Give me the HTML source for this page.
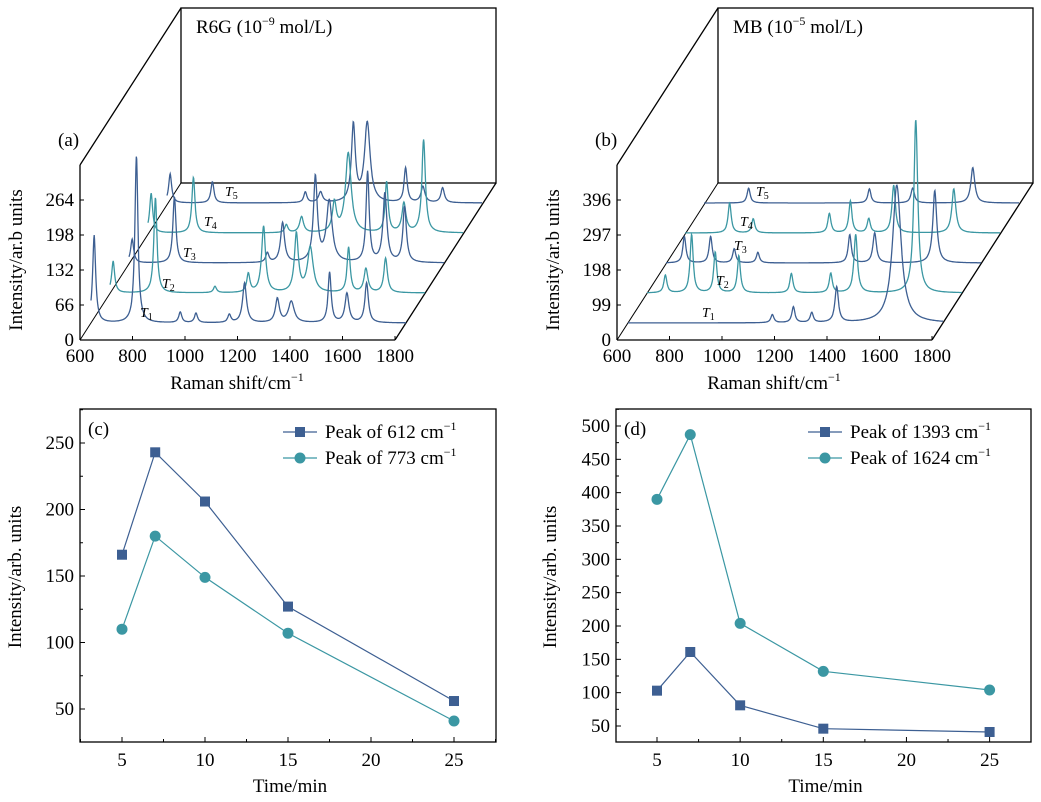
<!DOCTYPE html>
<html><head><meta charset="utf-8"><style>
html,body{margin:0;padding:0;background:#fff;}
svg{display:block;font-family:"Liberation Serif",serif;}
</style></head><body>
<svg id="fig" width="1041" height="802" viewBox="0 0 1041 802"></svg>
<script>
// ---------- data ----------
const r6gPeaks = [612, 773, 940, 1000, 1127, 1185, 1310, 1363, 1509, 1575, 1650];
const r6gWidths = [7, 7, 7, 7, 7, 9, 9, 13, 7, 9, 8];
const r6gT1 = [165, 315, 20, 18, 15, 75, 45, 40, 95, 55, 75];
const r6gT2 = [60, 180, 0, 12, 35, 125, 110, 85, 85, 45, 65];
const r6gT3 = [45, 125, 0, 0, 18, 75, 160, 115, 170, 130, 105];
const r6gT4 = [75, 105, 0, 0, 15, 30, 55, 150, 95, 55, 175];
const r6gT5 = [55, 40, 0, 0, 20, 20, 145, 150, 65, 30, 28];
const mbPeaks = [670, 770, 860, 950, 1150, 1230, 1300, 1395, 1624];
const mbWidths = [7, 7, 7, 7, 7, 7, 7, 8, 9];
const mbT1 = [0, 0, 0, 0, 23, 45, 28, 100, 390];
const mbT2 = [50, 165, 115, 105, 55, 0, 55, 165, 490];
const mbT3 = [75, 75, 40, 30, 0, 0, 80, 85, 205];
const mbT4 = [0, 85, 40, 0, 55, 90, 40, 135, 125];
const mbT5 = [0, 42, 0, 0, 0, 40, 0, 42, 100];
const r6gTicksY = [0, 66, 132, 198, 264];
const mbTicksY = [0, 99, 198, 297, 396];
const ramanTicks = [600, 800, 1000, 1200, 1400, 1600, 1800];
const times = [5, 7, 10, 15, 25];
const peak612 = [166, 243, 206, 127, 56];
const peak773 = [110, 180, 149, 107, 41];
const peak1393 = [103, 161, 81, 46, 41];
const peak1624 = [390, 487, 204, 132, 104];
const timeTicks = [5, 10, 15, 20, 25];
const cTicksY = [50, 100, 150, 200, 250];
const dTicksY = [50, 100, 150, 200, 250, 300, 350, 400, 450, 500];

const NS = "http://www.w3.org/2000/svg";
const svg = document.getElementById('fig');
const DARK = "#3d5f92", TEAL = "#3b97a3";
const FS = 19;
function el(tag, attrs, parent, text) {
  const e = document.createElementNS(NS, tag);
  for (const k in attrs) e.setAttribute(k, attrs[k]);
  if (text !== undefined) e.textContent = text;
  (parent || svg).appendChild(e);
  return e;
}
function line(x1, y1, x2, y2, g, w) {
  return el('line', {x1, y1, x2, y2, stroke: '#000', 'stroke-width': w || 1.3}, g);
}

// ---------- 3D waterfall panels ----------
function waterfall(o) {
  const g = el('g', {});
  
  
  const X0 = o.x0, Y0 = 340, W = 315, DX = 101, DY = 157;
  const sx = W / 1200;
  const xs = v => X0 + (v - 600) * sx;
  const ys = v => Y0 - v * o.sy;
  const fr = el('g', {}, g);
  
  
  el('rect', {x: X0 + DX, y: Y0 - 175 - DY, width: W, height: 175, fill: 'none', stroke: '#000', 'stroke-width': 1.3}, fr);
  line(X0, Y0, X0, Y0 - 175, fr);
  line(X0, Y0, X0 + W, Y0, fr);
  line(X0, Y0 - 175, X0 + DX, Y0 - 175 - DY, fr);
  line(X0 + W, Y0, X0 + W + DX, Y0 - DY, fr);
  line(X0, Y0, X0 + DX, Y0 - DY, fr, 1);
  o.ticksY.forEach(t => {
    const y = ys(t);
    line(X0, y, X0 + 4, y, g, 1);
    const tx = el('text', {x: X0 - 6, y: y + 6, 'text-anchor': 'end', 'font-size': FS}, g, t);
    
    
  });
  ramanTicks.forEach(t => {
    const x = xs(t);
    line(x, Y0, x, Y0 - 4, g, 1);
    const tx = el('text', {x: x, y: Y0 + 22, 'text-anchor': 'middle', 'font-size': FS}, g, t);
    
    
  });
  const xl = el('text', {x: X0 + 157, y: 389, 'text-anchor': 'middle', 'font-size': FS}, g);
  
  
  xl.innerHTML = 'Raman shift/cm<tspan dy="-8" font-size="12">−1</tspan>';
  const yl = el('text', {x: 0, y: 0, transform: `translate(${X0 - 58},${Y0 - 80}) rotate(-90)`, 'text-anchor': 'middle', 'font-size': FS}, g, 'Intensity/ar.b units');
  
  
  const pl = el('text', {x: X0 - 22, y: 146, 'font-size': FS}, g, o.label);
  
  
  const ti = el('text', {x: X0 + DX + 15, y: 33, 'font-size': FS}, g);
  
  
  ti.innerHTML = o.title;
  for (let k = 4; k >= 0; k--) {
    const hs = o.series[k];
    const dx = 11 + 19 * k, dy = 17 + 30 * k;
    let d = '';
    for (let v = 600; v <= 1800; v += 1.5) {
      let I = 0;
      for (let i = 0; i < o.peaks.length; i++) {
        const gm = o.widths[i] * (o.broad && k === 0 && i === o.peaks.length - 1 ? 2.2 : 1);
        const u = (v - o.peaks[i]) / gm;
        I += hs[i] / (1 + u * u);
      }
      const x = xs(v) + dx, y = ys(I) - dy;
      d += (d ? 'L' : 'M') + x.toFixed(1) + ' ' + y.toFixed(1);
    }
    const p = el('path', {d, fill: 'none', stroke: k % 2 === 0 ? DARK : TEAL, 'stroke-width': 1.3}, g);
    
    
    const lb = el('text', {x: o.tLabels[k][0], y: o.tLabels[k][1], 'font-size': 14, 'font-style': 'italic'}, g);
    
    
    lb.innerHTML = 'T<tspan dy="3" font-size="10" font-style="normal">' + (k + 1) + '</tspan>';
  }
}
waterfall({name: 'panel-a-r6g-spectra', x0: 80, sy: 35 / 66, peaks: r6gPeaks, widths: r6gWidths,
  series: [r6gT1, r6gT2, r6gT3, r6gT4, r6gT5], ticksY: r6gTicksY, label: '(a)',
  title: 'R6G (10<tspan dy="-8" font-size="12">−9</tspan><tspan dy="8"> mol/L)</tspan>',
  tLabels: [[140, 317], [162, 288], [183, 257], [204, 226], [225, 196]]});
waterfall({name: 'panel-b-mb-spectra', x0: 617, sy: 35 / 99, peaks: mbPeaks, widths: mbWidths, broad: true,
  series: [mbT1, mbT2, mbT3, mbT4, mbT5], ticksY: mbTicksY, label: '(b)',
  title: 'MB (10<tspan dy="-8" font-size="12">−5</tspan><tspan dy="8"> mol/L)</tspan>',
  tLabels: [[702, 317], [716, 285], [734, 250], [740, 226], [756, 196]]});

// ---------- line charts ----------
function lineChart(o) {
  const g = el('g', {});
  
  
  const L = o.left, R = o.right, T = 409, B = 742;
  const xs = t => o.x5 + (t - 5) * o.kx;
  const ys = v => o.yRef - (v - o.vRef) * o.ky;
  const fr = el('rect', {x: L, y: T, width: R - L, height: B - T, fill: 'none', stroke: '#000', 'stroke-width': 1.3}, g);
  
  
  for (let t = 2.5; t <= 27.5; t += 2.5) {
    const x = xs(t);
    if (x < L || x > R) continue;
    const major = t % 5 === 0;
    line(x, B, x, B - (major ? 5 : 3), g, 1);
  }
  timeTicks.forEach(t => {
    const tx = el('text', {x: xs(t), y: B + 24, 'text-anchor': 'middle', 'font-size': FS}, g, t);
    
    
  });
  for (let v = 0; v <= 600; v += o.minor) {
    const y = ys(v);
    if (y < T || y > B) continue;
    line(L, y, L + (o.ticksY.includes(v) ? 5 : 3), y, g, 1);
  }
  o.ticksY.forEach(v => {
    const tx = el('text', {x: L - 6, y: ys(v) + 6, 'text-anchor': 'end', 'font-size': FS}, g, v);
    
    
  });
  const xl = el('text', {x: (L + R) / 2 + 2, y: 792, 'text-anchor': 'middle', 'font-size': FS}, g, 'Time/min');
  
  
  const yl = el('text', {x: 0, y: 0, transform: `translate(${o.yTitleX},577) rotate(-90)`, 'text-anchor': 'middle', 'font-size': FS}, g, 'Intensity/arb. units');
  
  
  const pl = el('text', {x: L + 8, y: 435, 'font-size': FS}, g, o.label);
  
  
  o.series.forEach((s, si) => {
    const col = si === 0 ? DARK : TEAL;
    const pts = times.map((t, i) => xs(t).toFixed(1) + ',' + ys(s[i]).toFixed(1)).join(' ');
    const pl2 = el('polyline', {points: pts, fill: 'none', stroke: col, 'stroke-width': 1.2}, g);
    
    
    times.forEach((t, i) => {
      let m;
      if (si === 0) m = el('rect', {x: xs(t) - 5, y: ys(s[i]) - 5, width: 10, height: 10, fill: col}, g);
      else m = el('circle', {cx: xs(t), cy: ys(s[i]), r: 5.5, fill: col}, g);
      
      
    });
    const ly = 432 + si * 26;
    const lg = el('g', {}, g);
    
    
    el('line', {x1: o.legX, y1: ly, x2: o.legX + 34, y2: ly, stroke: col, 'stroke-width': 1.2}, lg);
    if (si === 0) el('rect', {x: o.legX + 12, y: ly - 5, width: 10, height: 10, fill: col}, lg);
    else el('circle', {cx: o.legX + 17, cy: ly, r: 5.5, fill: col}, lg);
    const lt = el('text', {x: o.legX + 42, y: ly + 6, 'font-size': FS}, lg);
    lt.innerHTML = 'Peak of ' + o.names[si] + ' cm<tspan dy="-8" font-size="12">−1</tspan>';
  });
}
lineChart({name: 'panel-c-r6g-peaks', left: 80, right: 496, x5: 122, kx: 16.6, yRef: 709, vRef: 50, ky: 1.33,
  ticksY: cTicksY, minor: 25, label: '(c)', series: [peak612, peak773], names: ['612', '773'], legX: 283, yTitleX: 21});
lineChart({name: 'panel-d-mb-peaks', left: 616, right: 1031, x5: 657, kx: 16.63, yRef: 726, vRef: 50, ky: 0.6667,
  ticksY: dTicksY, minor: 25, label: '(d)', series: [peak1393, peak1624], names: ['1393', '1624'], legX: 808, yTitleX: 556});
</script>
</body></html>
